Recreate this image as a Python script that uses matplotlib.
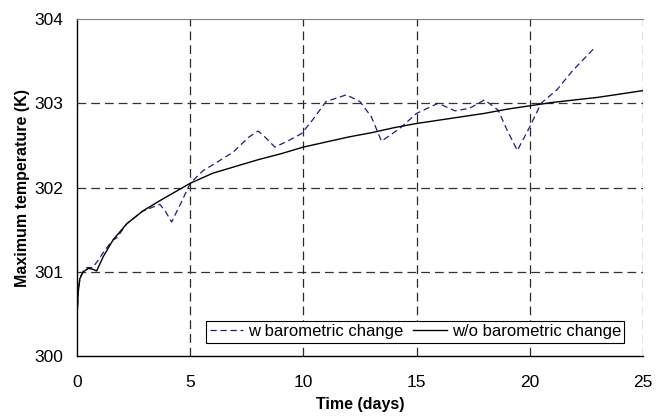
import numpy as np
import matplotlib
matplotlib.use("Agg")
import matplotlib.pyplot as plt

plt.rcParams['font.family'] = ['Liberation Sans', 'DejaVu Sans']

# time (days) and max temperature (K), without barometric change
t_wo = [0, 0.01, 0.05, 0.13, 0.28, 0.5, 0.7, 0.87, 1.16, 1.6, 2.2, 2.9, 3.7,
        5.0, 6.0, 7.0, 8.0, 9.0, 10.0, 11.0, 12.0, 13.0, 14.0, 15.0, 16.0,
        17.0, 18.0, 19.0, 20.0, 21.0, 22.0, 23.0, 24.0, 25.0]
T_wo = [300.0, 300.5, 300.75, 300.92, 301.0, 301.04, 301.03, 301.01, 301.18,
        301.38, 301.57, 301.72, 301.85, 302.05, 302.17, 302.25, 302.33, 302.40,
        302.48, 302.54, 302.60, 302.65, 302.71, 302.76, 302.80, 302.84, 302.88,
        302.93, 302.97, 303.01, 303.04, 303.07, 303.11, 303.15]

# with barometric change
t_w = [0, 0.01, 0.05, 0.13, 0.3, 0.45, 0.7, 0.94, 1.24, 1.6, 1.75, 2.2, 2.9,
       3.66, 3.9, 4.18, 4.6, 5.0, 5.57, 6.0, 6.9, 7.6, 8.0, 8.3, 8.74, 9.3,
       9.92, 10.4, 11.0, 11.9, 12.5, 13.0, 13.45, 14.25, 15.0, 15.95, 16.7,
       17.34, 18.0, 18.6, 19.0, 19.45, 20.0, 20.5, 21.2, 21.9, 22.8]
T_w = [300.0, 300.5, 300.75, 300.93, 301.02, 301.05, 301.05, 301.14, 301.26,
       301.38, 301.40, 301.57, 301.72, 301.80, 301.72, 301.59, 301.82, 302.05,
       302.20, 302.27, 302.42, 302.60, 302.67, 302.60, 302.48, 302.55, 302.64,
       302.80, 303.02, 303.10, 303.02, 302.84, 302.55, 302.70, 302.88, 303.00,
       302.91, 302.94, 303.04, 302.92, 302.68, 302.44, 302.72, 303.00, 303.16,
       303.39, 303.64]

fig = plt.figure(figsize=(6.67, 4.16), dpi=100)
ax = fig.add_axes([0.1154, 0.1442, 0.8486, 0.8101])

ax.plot(t_w, T_w, color="#1a1a8c", lw=0.9, linestyle=(0, (5, 3)), label="w barometric change")
ax.plot(t_wo, T_wo, color="black", lw=1.0, label="w/o barometric change")

ax.set_xlim(0, 25)
ax.set_ylim(300, 304)
ax.set_xticks([0, 5, 10, 15, 20, 25])
ax.set_yticks([300, 301, 302, 303, 304])
ax.tick_params(length=0, labelsize=12.5)
ax.tick_params(axis='x', pad=14)
ax.tick_params(axis='y', pad=10)

for x in [5, 10, 15, 20, 25]:
    ax.axvline(x, color="#2a2a2a", lw=0.9, linestyle=(0, (7, 4)), zorder=0)
for y in [301, 302, 303]:
    ax.axhline(y, color="#333333", lw=0.9, linestyle=(0, (7, 4)), zorder=0)

ax.spines['right'].set_visible(False)
ax.spines['top'].set_color("#808080")
ax.spines['left'].set_linewidth(1.0)
ax.spines['bottom'].set_linewidth(1.0)

ax.set_xlabel("Time (days)", fontsize=11.5, fontweight="bold", labelpad=5)
ax.set_ylabel("Maximum temperature (K)", fontsize=11.5, fontweight="bold", labelpad=3)

leg = ax.legend(loc="lower right", bbox_to_anchor=(0.967, 0.04), ncol=2, fontsize=12,
                frameon=True, fancybox=False, handlelength=2.0, handletextpad=0.3,
                columnspacing=0.6, borderpad=0.2, borderaxespad=0)
leg.get_frame().set_edgecolor("black")
leg.get_frame().set_linewidth(0.8)
leg.get_frame().set_alpha(1)

fig.savefig("out.png", dpi=100)
